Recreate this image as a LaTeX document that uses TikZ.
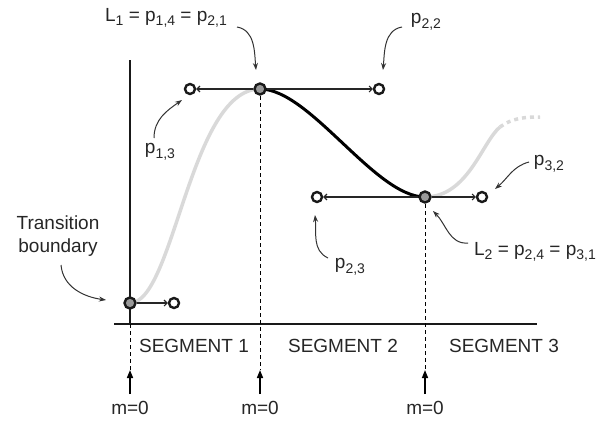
\documentclass[tikz,border=0pt]{standalone}
\usepackage{fontspec}
\setmainfont{Liberation Sans}
\usetikzlibrary{arrows.meta}
\newcommand\sbs[1]{\raisebox{-0.45ex}{\fontsize{14}{14}\selectfont #1}}
\begin{document}
\begin{tikzpicture}[x=1pt,y=-1pt,
  txt/.style={font=\fontsize{19}{23}\selectfont, inner sep=0pt, text=black!85},
  knot/.style={circle, draw=black!90, fill=black!40, line width=2.4pt, minimum size=11pt, inner sep=0pt},
  ctrl/.style={circle, draw=black!90, fill=white, line width=2.4pt, minimum size=10pt, inner sep=0pt},
  tang/.style={line width=1.1pt, black!85, -{Straight Barb[length=3pt,width=6pt]}},
  callout/.style={line width=1pt, black!80, -{Stealth[length=7pt,width=5pt]}},
  drop/.style={line width=1pt, dashed, dash pattern=on 4pt off 3pt},
  upar/.style={line width=1.5pt, -{Triangle[length=8pt,width=6pt]}},
  axis/.style={line width=1.2pt, black!90},
  graycurve/.style={line width=3.5pt, black!15},
  blackcurve/.style={line width=3pt, black}
]
\useasboundingbox (0,0) rectangle (609,423);

% axes
\coordinate (ytop) at (130,60);
\coordinate (yorg) at (130,324);
\coordinate (xl) at (114,324);
\coordinate (xr) at (537,324);
\draw[axis] (ytop) -- (yorg);
\draw[axis] (xl) -- (xr);

% points
\coordinate (TBc) at (130,303);
\coordinate (P12c) at (174,303);
\coordinate (L1c) at (260,89);
\coordinate (P13c) at (190,89);
\coordinate (P22c) at (379,89);
\coordinate (L2c) at (425,197);
\coordinate (P23c) at (317,197);
\coordinate (P32c) at (482,197);
\coordinate (S3a) at (500,127);
\coordinate (S3b) at (540,117);

% curves
\draw[graycurve] (TBc) .. controls (P12c) and (P13c) .. (L1c);
\draw[graycurve] (L2c) .. controls (468,197) and (482,142) .. (S3a);
\draw[graycurve, dash pattern=on 4pt off 4pt] (S3a) .. controls (512,118) and (525,117) .. (S3b);
\draw[blackcurve] (L1c) .. controls (310,89) and (375,197) .. (L2c);

% drop lines and m=0 arrows
\coordinate (d1) at (130,370);
\coordinate (d2) at (260,370);
\coordinate (d3) at (425,370);
\coordinate (t1) at (130,394);
\coordinate (t2) at (260,394);
\coordinate (t3) at (425,394);
\draw[drop] (yorg) -- (d1);
\draw[drop] (L1c) -- (d2);
\draw[drop] (L2c) -- (d3);
\draw[upar] (t1) -- (d1);
\draw[upar] (t2) -- (d2);
\draw[upar] (t3) -- (d3);
\node[txt] (m1) at (130,408) {m=0};
\node[txt] (m2) at (260,408) {m=0};
\node[txt] (m3) at (425,408) {m=0};

% nodes
\node[knot] (TB) at (TBc) {};
\node[ctrl] (P12) at (P12c) {};
\node[knot] (L1) at (L1c) {};
\node[ctrl] (P13) at (P13c) {};
\node[ctrl] (P22) at (P22c) {};
\node[knot] (L2) at (L2c) {};
\node[ctrl] (P23) at (P23c) {};
\node[ctrl] (P32) at (P32c) {};

% tangent arrows
\draw[tang] (TB) -- (P12);
\draw[tang] (L1) -- (P13);
\draw[tang] (L1) -- (P22);
\draw[tang] (L2) -- (P23);
\draw[tang] (L2) -- (P32);

% labels
\node[txt] (lL1) at (166,18) {L\sbs{1} = p\sbs{1,4} = p\sbs{2,1}};
\node[txt] (lP22) at (426,22) {p\sbs{2,2}};
\node[txt] (lP13) at (160,152) {p\sbs{1,3}};
\node[txt] (lP32) at (549,164) {p\sbs{3,2}};
\node[txt] (lL2) at (535,252) {L\sbs{2} = p\sbs{2,4} = p\sbs{3,1}};
\node[txt] (lP23) at (350,267) {p\sbs{2,3}};
\node[txt, align=center] (lTB) at (58,236) {Transition\\boundary};
\node[txt] (s1) at (194,346) {SEGMENT 1};
\node[txt] (s2) at (343,346) {SEGMENT 2};
\node[txt] (s3) at (504,346) {SEGMENT 3};

% callout arrows
\coordinate (aL1s) at (237,27);   \coordinate (aL1e) at (256,70);
\coordinate (aP22s) at (402,27);  \coordinate (aP22e) at (383,70);
\coordinate (aP13s) at (154,138); \coordinate (aP13e) at (182,100);
\coordinate (aP32s) at (529,162); \coordinate (aP32e) at (495,189);
\coordinate (aL2s) at (468,243);  \coordinate (aL2e) at (433,211);
\coordinate (aP23s) at (328,258); \coordinate (aP23e) at (315,215);
\coordinate (aTBs) at (61,265);   \coordinate (aTBe) at (106,300);
\draw[callout] (aL1s) to[out=-10,in=95] (aL1e);
\draw[callout] (aP22s) to[out=190,in=85] (aP22e);
\draw[callout] (aP13s) to[out=90,in=215] (aP13e);
\draw[callout] (aP32s) to[out=195,in=40] (aP32e);
\draw[callout] (aL2s) to[out=185,in=-45] (aL2e);
\draw[callout] (aP23s) to[out=155,in=-85] (aP23e);
\draw[callout] (aTBs) to[out=-85,in=172] (aTBe);
\end{tikzpicture}
\end{document}
